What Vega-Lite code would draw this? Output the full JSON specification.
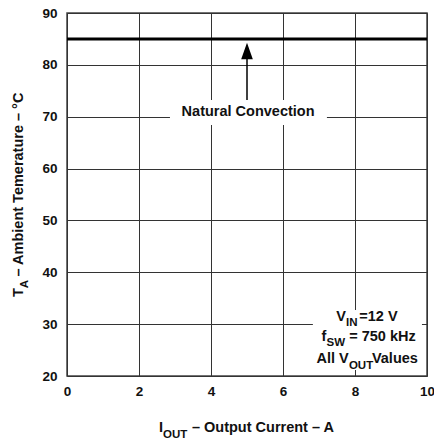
{
  "$schema": "https://vega.github.io/schema/vega-lite/v6.json",
  "width": 360,
  "height": 363,
  "autosize": {"type": "none"},
  "padding": {"left": 67, "top": 13, "right": 7, "bottom": 65},
  "background": "white",
  "config": {
    "view": {"stroke": "#444", "strokeWidth": 1.5},
    "axis": {
      "grid": true,
      "gridColor": "#333",
      "gridWidth": 1,
      "gridOpacity": 1,
      "domain": false,
      "ticks": false,
      "labelFont": "Liberation Sans",
      "labelFontWeight": "bold",
      "labelFontSize": 13.5,
      "labelColor": "#111",
      "labelFlush": false,
      "labelBound": false,
      "labelOverlap": false
    },
    "text": {"font": "Liberation Sans", "fontWeight": "bold", "color": "#111"}
  },
  "encoding": {
    "x": {"field": "x", "type": "quantitative", "title": null,
      "scale": {"domain": [0, 10], "nice": false, "zero": false},
      "axis": {"values": [0, 2, 4, 6, 8, 10], "labelPadding": 8, "title": null}},
    "y": {"field": "y", "type": "quantitative", "title": null,
      "scale": {"domain": [20, 90], "nice": false, "zero": false},
      "axis": {"values": [20, 30, 40, 50, 60, 70, 80, 90], "labelPadding": 10, "title": null}}
  },
  "layer": [
    {
      "data": {"values": [
        {"x": 2.86, "x2": 7.22, "y": 73.22, "y2": 68.4},
        {"x": 6.83, "x2": 9.86, "y": 32.73, "y2": 21.16}
      ]},
      "mark": {"type": "rect", "color": "white"},
      "encoding": {
        "x2": {"field": "x2"},
        "y2": {"field": "y2"}
      }
    },
    {
      "data": {"values": [{"x": 0, "x2": 10, "y": 85}]},
      "mark": {"type": "rule", "color": "#000", "strokeWidth": 3},
      "encoding": {
        "x2": {"field": "x2"}
      }
    },
    {
      "data": {"values": [{"x": 5, "y": 73.22, "y2": 81.5}]},
      "mark": {"type": "rule", "color": "#000", "strokeWidth": 1.5},
      "encoding": {
        "y2": {"field": "y2"}
      }
    },
    {
      "data": {"values": [{"x": 5, "y": 82.67}]},
      "mark": {"type": "point", "shape": "M0,-1L0.7,1L-0.7,1Z", "size": 276, "filled": true, "color": "#000", "opacity": 1},
      "encoding": {}
    },
    {
      "data": {"values": [{"x": 5.03, "y": 70.1, "text": "Natural Convection"}]},
      "mark": {"type": "text", "fontSize": 14.5, "align": "center", "baseline": "alphabetic"},
      "encoding": {
        "text": {"field": "text"}
      }
    },
    {
      "data": {"values": [
        {"x": 7.48, "y": 30.61, "text": "V"},
        {"x": 8.12, "y": 30.61, "text": "=12 V"},
        {"x": 7.07, "y": 26.75, "text": "f"},
        {"x": 7.84, "y": 26.75, "text": "= 750 kHz"},
        {"x": 6.93, "y": 22.51, "text": "All V"},
        {"x": 8.47, "y": 22.51, "text": "Values"},
        {"x": 2.556, "y": 9.11, "text": "I"},
        {"x": 3.47, "y": 9.11, "text": "– Output Current – A"}
      ]},
      "mark": {"type": "text", "fontSize": 14.5, "align": "left", "baseline": "alphabetic"},
      "encoding": {
        "text": {"field": "text"}
      }
    },
    {
      "data": {"values": [
        {"x": 7.75, "y": 29.64, "text": "IN"},
        {"x": 7.21, "y": 25.79, "text": "SW"},
        {"x": 7.83, "y": 21.35, "text": "OUT"},
        {"x": 2.667, "y": 8.05, "text": "OUT"}
      ]},
      "mark": {"type": "text", "fontSize": 11.5, "align": "left", "baseline": "alphabetic"},
      "encoding": {
        "text": {"field": "text"}
      }
    },
    {
      "data": {"values": [
        {"x": -1.222, "y": 35.24, "text": "T"},
        {"x": -1.222, "y": 39.19, "text": "– Ambient Temerature – °C"}
      ]},
      "mark": {"type": "text", "fontSize": 14.5, "align": "left", "baseline": "alphabetic", "angle": 270},
      "encoding": {
        "text": {"field": "text"}
      }
    },
    {
      "data": {"values": [
        {"x": -1.083, "y": 36.9, "text": "A"}
      ]},
      "mark": {"type": "text", "fontSize": 11.5, "align": "left", "baseline": "alphabetic", "angle": 270},
      "encoding": {
        "text": {"field": "text"}
      }
    }
  ]
}
